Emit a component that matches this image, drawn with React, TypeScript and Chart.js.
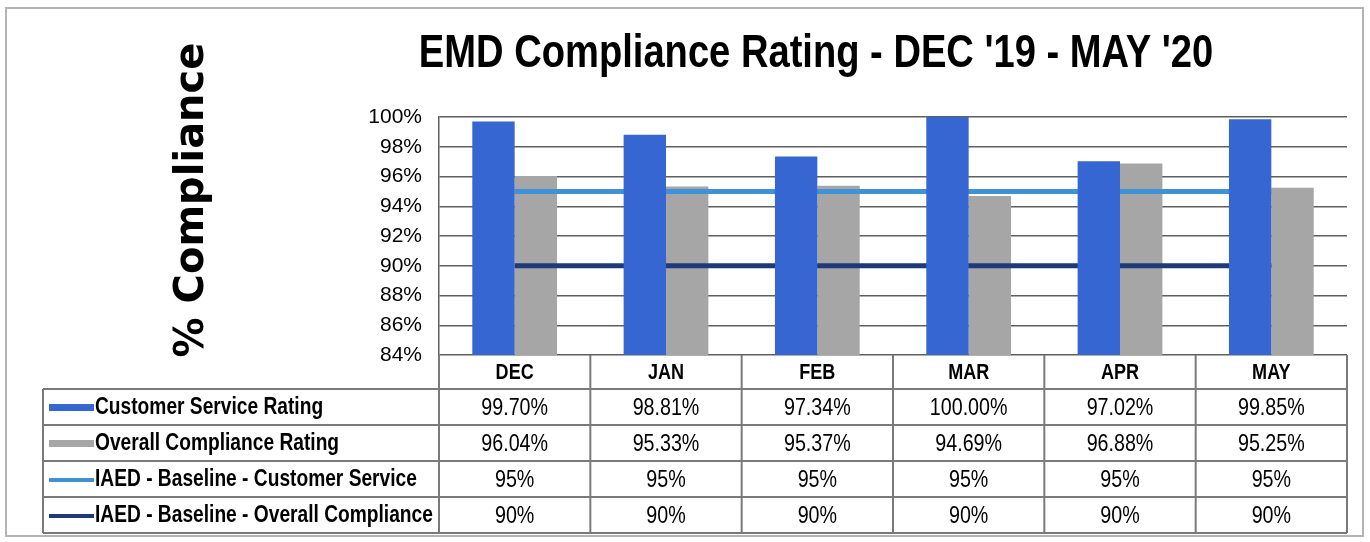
import React, { useEffect, useRef } from "react";
import { Chart, registerables } from "chart.js";

Chart.register(...registerables);

// ---------- data ----------
const months = ["DEC", "JAN", "FEB", "MAR", "APR", "MAY"];
const customerServiceRating = [99.7, 98.81, 97.34, 100.0, 97.02, 99.85];
const overallComplianceRating = [96.04, 95.33, 95.37, 94.69, 96.88, 95.25];
const baselineCustomerService = [95, 95, 95, 95, 95, 95];
const baselineOverallCompliance = [90, 90, 90, 90, 90, 90];
const yTickValues = [84, 86, 88, 90, 92, 94, 96, 98, 100];
const seriesNames = [
  "Customer Service Rating",
  "Overall Compliance Rating",
  "IAED - Baseline - Customer Service",
  "IAED - Baseline - Overall Compliance",
];
const seriesDecimals = [2, 2, 0, 0];

const TITLE = "EMD Compliance Rating - DEC '19 - MAY '20";
const Y_TITLE = "% Compliance";

// ---------- styles ----------
const SANS = '"Liberation Sans", Arial, sans-serif';
const NARROW_SCALE = 0.82;
const BLUE = "#3566d2";
const GRAY = "#a6a6a6";
const LIGHT = "#4191d8";
const NAVY = "#1f3a78";
const GRID = "#5f5f5f";
const TABLE_LINE = "#7a7a7a";

function narrowText(
  ctx: CanvasRenderingContext2D,
  text: string,
  x: number,
  y: number,
  font: string,
  align: CanvasTextAlign,
  baseline: CanvasTextBaseline = "middle"
) {
  ctx.save();
  ctx.translate(x, y);
  ctx.scale(NARROW_SCALE, 1);
  ctx.font = font;
  ctx.textAlign = align;
  ctx.textBaseline = baseline;
  ctx.fillStyle = "#000";
  ctx.fillText(text, 0, 0);
  ctx.restore();
}

const decorPlugin = {
  id: "decor",
  beforeDraw(chart: any) {
    const ctx = chart.ctx;
    ctx.save();
    ctx.fillStyle = "#ffffff";
    ctx.fillRect(0, 0, chart.width, chart.height);
    ctx.strokeStyle = "#b4b4b4";
    ctx.lineWidth = 2;
    ctx.strokeRect(6, 8, chart.width - 13, chart.height - 14);
    ctx.restore();
  },
  afterDraw(chart: any) {
    const ctx = chart.ctx;
    const area = chart.chartArea;
    const xs = chart.scales.x;

    // Title
    narrowText(ctx, TITLE, 816, 67, `bold 46.5px ${SANS}`, "center", "alphabetic");

    // Y axis title
    ctx.save();
    ctx.fillStyle = "#000";
    ctx.translate(203, 200);
    ctx.rotate(-Math.PI / 2);
    ctx.font = 'bold 40px "DejaVu Sans", sans-serif';
    ctx.textAlign = "center";
    ctx.textBaseline = "alphabetic";
    ctx.fillText(Y_TITLE, 0, 0);
    ctx.restore();

    // Data table
    const datasets = chart.data.datasets;
    const n = months.length;
    const colW = (area.right - area.left) / n;
    const headerTop = area.bottom;
    const headerH = 34;
    const rowH = 36;
    const tableLeft = 43;
    const rowsTop = headerTop + headerH;
    const tableBottom = rowsTop + rowH * datasets.length;

    ctx.save();
    ctx.strokeStyle = TABLE_LINE;
    ctx.lineWidth = 2;
    ctx.beginPath();
    for (let r = 0; r <= datasets.length; r++) {
      const y = rowsTop + r * rowH;
      ctx.moveTo(tableLeft, y);
      ctx.lineTo(area.right, y);
    }
    for (let i = 0; i <= n; i++) {
      const x = area.left + i * colW;
      ctx.moveTo(x, headerTop);
      ctx.lineTo(x, tableBottom);
    }
    ctx.moveTo(tableLeft, rowsTop);
    ctx.lineTo(tableLeft, tableBottom);
    ctx.stroke();
    ctx.restore();

    // header
    months.forEach((m, i) => {
      narrowText(ctx, m, xs.getPixelForValue(i), headerTop + headerH / 2 + 1, `bold 22px ${SANS}`, "center");
    });

    // rows
    datasets.forEach((ds: any, r: number) => {
      const cy = rowsTop + r * rowH + rowH / 2 + 1;
      ds.data.forEach((v: number, i: number) => {
        narrowText(ctx, v.toFixed(seriesDecimals[r]) + "%", xs.getPixelForValue(i), cy, `24px ${SANS}`, "center");
      });
      ctx.save();
      if (ds.type === "bar") {
        ctx.fillStyle = ds.backgroundColor;
        ctx.fillRect(49, cy - 4, 45, 7);
      } else {
        ctx.fillStyle = ds.borderColor;
        ctx.fillRect(49, cy - 2, 45, 4);
      }
      ctx.restore();
      narrowText(ctx, seriesNames[r], 95, cy, `bold 23.4px ${SANS}`, "left");
    });
  },
};

export default function App() {
  const canvasRef = useRef<HTMLCanvasElement | null>(null);

  useEffect(() => {
    const canvas = canvasRef.current;
    if (!canvas) return;
    const chart = new Chart(canvas, {
      type: "bar",
      data: {
        labels: months,
        datasets: [
          {
            type: "bar",
            label: seriesNames[0],
            data: customerServiceRating,
            backgroundColor: BLUE,
            order: 0,
            categoryPercentage: 0.56,
            barPercentage: 1,
          },
          {
            type: "bar",
            label: seriesNames[1],
            data: overallComplianceRating,
            backgroundColor: GRAY,
            order: 2,
            categoryPercentage: 0.56,
            barPercentage: 1,
          },
          {
            type: "line",
            label: seriesNames[2],
            data: baselineCustomerService,
            borderColor: LIGHT,
            backgroundColor: LIGHT,
            borderWidth: 5,
            pointRadius: 0,
            order: 1,
          },
          {
            type: "line",
            label: seriesNames[3],
            data: baselineOverallCompliance,
            borderColor: NAVY,
            backgroundColor: NAVY,
            borderWidth: 5,
            pointRadius: 0,
            order: 1,
          },
        ] as any,
      },
      options: {
        responsive: false,
        animation: false,
        events: [],
        layout: { padding: { top: 117, bottom: 187, left: 0, right: 23 } },
        plugins: {
          legend: { display: false },
          title: { display: false },
          tooltip: { enabled: false },
        },
        scales: {
          x: { display: false },
          y: {
            min: 84,
            max: 100,
            afterFit: (s: any) => {
              s.width = 439;
            },
            afterBuildTicks: (s: any) => {
              s.ticks = yTickValues.map((v) => ({ value: v }));
            },
            ticks: {
              color: "#000",
              font: { family: SANS, size: 21 },
              padding: 17,
              autoSkip: false,
              callback: (v: any) => v + "%",
            },
            grid: { color: GRID, lineWidth: 1.5, drawTicks: false },
            border: { display: true, color: GRID, width: 1.5 },
          },
        },
      } as any,
      plugins: [decorPlugin],
    });
    return () => chart.destroy();
  }, []);

  return (
    <div style={{ position: "absolute", left: 0, top: 0, width: 1370, height: 542 }}>
      <canvas ref={canvasRef} width={1370} height={542} style={{ display: "block" }} />
    </div>
  );
}
